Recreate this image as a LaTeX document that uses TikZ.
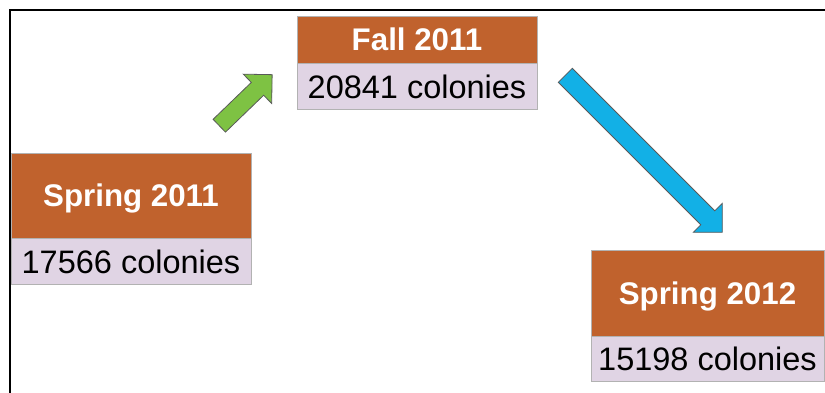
\documentclass[tikz,border=0pt]{standalone}
\usepackage{fontspec}
\setmainfont{Liberation Sans}
\usetikzlibrary{positioning,shapes.arrows}
\definecolor{rust}{RGB}{192,98,45}
\definecolor{lilac}{RGB}{224,212,228}
\definecolor{leaf}{RGB}{126,194,67}
\definecolor{sky}{RGB}{18,176,230}
\begin{document}
\begin{tikzpicture}[x=1pt,y=1pt,
        season/.style={fill=rust, draw=gray!60, line width=0.8pt, text=white, inner sep=0pt,
        font=\fontsize{31.3}{36}\selectfont\bfseries, text height=22.4pt, text depth=0pt, minimum width=240pt},
        count/.style={fill=lilac, draw=gray!60, line width=0.8pt, inner sep=0pt,
        font=\fontsize{32.5}{37}\selectfont, text height=23.3pt, text depth=0pt, minimum width=240pt, minimum height=46pt},
        trend/.style={single arrow, draw=black!65, line width=0.8pt, inner xsep=0pt, anchor=tail}]
        \useasboundingbox (0,0) rectangle (825,-393);
        \draw[line width=2pt] (10,-393) -- (10,-10) -- (825,-10);
        \node[season, minimum height=85pt] (spring11) at (131,-195.5) {Spring 2011};
        \node[count, below=0pt of spring11] (spring11c) {17566 colonies};
        \node[season, minimum height=47pt] (fall11) at (417,-39.5) {Fall 2011};
        \node[count, below=0pt of fall11] (fall11c) {20841 colonies};
        \node[season, minimum height=86pt, minimum width=233pt] (spring12) at (707.5,-293) {Spring 2012};
        \node[count, minimum width=233pt, minimum height=45pt, below=0pt of spring12] (spring12c) {15198 colonies};
        \node[trend, fill=leaf, rotate=44, minimum height=73.5pt, inner ysep=8.5pt,
        single arrow head extend=11.5pt] (rise) at (219,-126) {};
        \node[trend, fill=sky, rotate=-45, minimum height=222pt, inner ysep=9.5pt,
        single arrow head extend=10.5pt] (fall) at (565,-75) {};
    \end{tikzpicture}
\end{document}
